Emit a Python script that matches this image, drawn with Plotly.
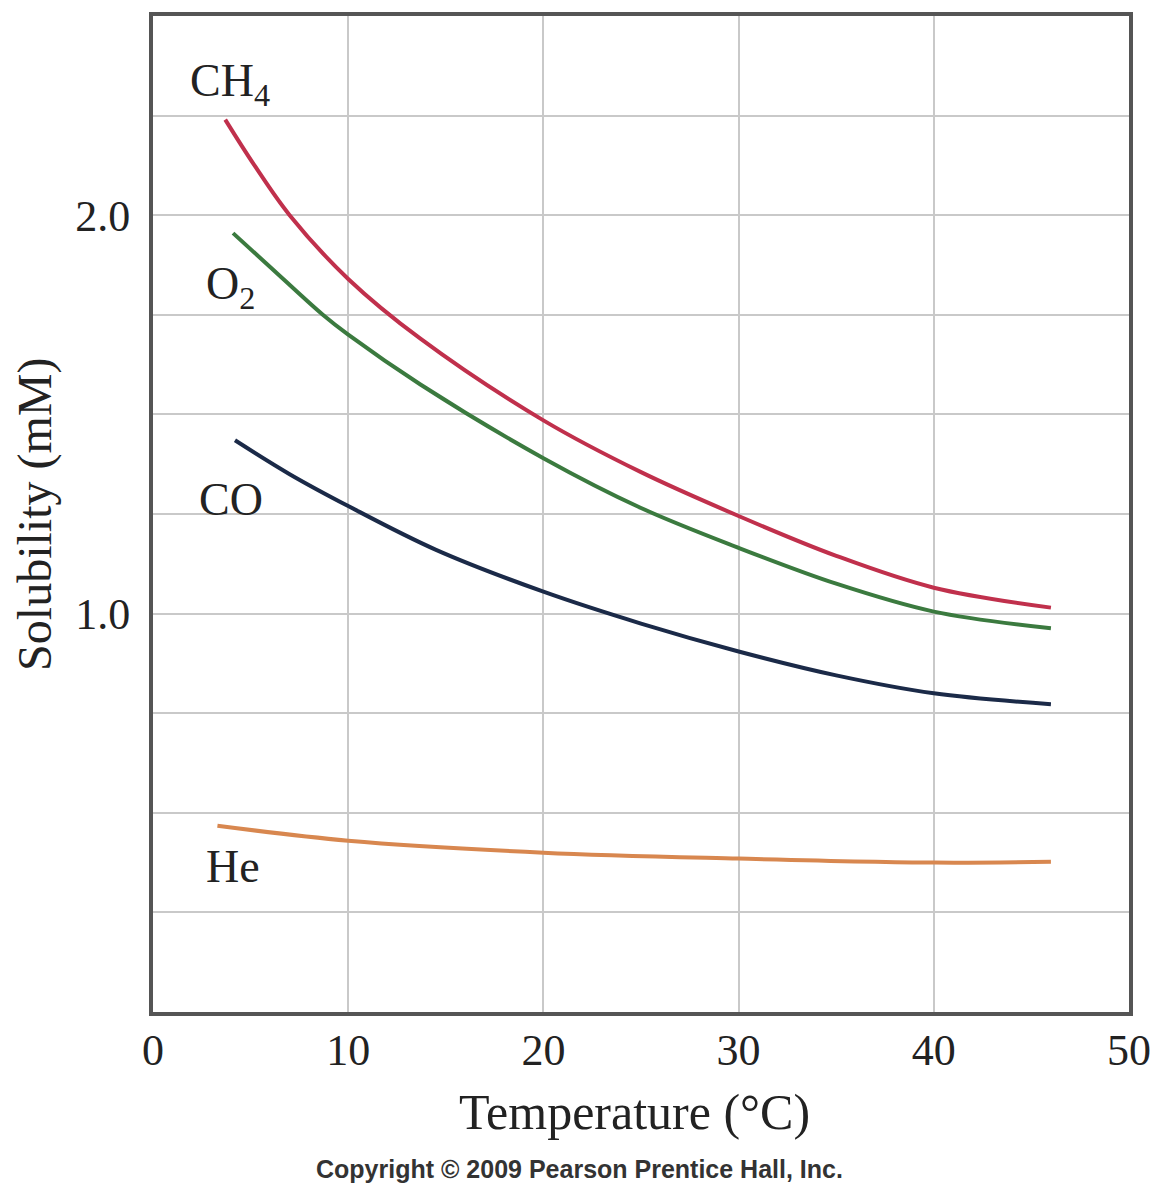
import plotly.graph_objects as go

# Data (temperature in °C, solubility in mM)
ch4_t = [3.7, 5.2, 7.0, 10.0, 13.7, 20.0, 25.0, 30.0, 35.0, 40.0, 46.0]
ch4_s = [2.24, 2.125, 2.00, 1.84, 1.69, 1.485, 1.355, 1.245, 1.145, 1.065, 1.015]

o2_t = [4.1, 6.0, 8.7, 10.0, 13.7, 20.0, 25.0, 30.0, 35.0, 40.0, 46.0]
o2_s = [1.955, 1.87, 1.75, 1.70, 1.575, 1.39, 1.265, 1.165, 1.075, 1.005, 0.963]

co_t = [4.2, 7.0, 10.0, 14.5, 20.0, 25.0, 30.0, 35.0, 40.0, 46.0]
co_s = [1.435, 1.35, 1.27, 1.16, 1.055, 0.975, 0.905, 0.845, 0.80, 0.7725]

he_t = [3.3, 10.0, 20.0, 30.0, 40.0, 46.0]
he_s = [0.4675, 0.43, 0.40, 0.385, 0.375, 0.377]

series_names = ["CH<sub>4</sub>", "O<sub>2</sub>", "CO", "He"]
series_colors = ["#c0304c", "#3b7a3f", "#1b2a48", "#d8874f"]
label_x = [3.95, 3.95, 4.0, 4.1]
label_y = [2.33, 1.82, 1.2875, 0.365]

x_ticks = [0, 10, 20, 30, 40, 50]
y_grid = [0.25, 0.5, 0.75, 1.0, 1.25, 1.5, 1.75, 2.0, 2.25, 2.5]
y_labels = ["", "", "", "1.0", "", "", "", "2.0", "", ""]

FONT = "Liberation Serif"
TXT = "#222222"

fig = go.Figure()
for t, s, c in [(ch4_t, ch4_s, series_colors[0]), (o2_t, o2_s, series_colors[1]),
                (co_t, co_s, series_colors[2]), (he_t, he_s, series_colors[3])]:
    fig.add_trace(go.Scatter(x=t, y=s, mode="lines",
                             line=dict(color=c, width=4, shape="spline", smoothing=1.0),
                             showlegend=False, hoverinfo="skip"))

for name, lx, ly in zip(series_names, label_x, label_y):
    fig.add_annotation(x=lx, y=ly, xref="x", yref="y", text=name, showarrow=False,
                       xanchor="center", yanchor="middle",
                       font=dict(family=FONT, size=46, color=TXT))

fig.add_annotation(x=0.493, y=-0.10, xref="paper", yref="paper", text="Temperature (°C)",
                   showarrow=False, xanchor="center", yanchor="middle",
                   font=dict(family=FONT, size=50, color=TXT))
fig.add_annotation(x=-0.121, y=0.5, xref="paper", yref="paper", text="Solubility (mM)",
                   showarrow=False, textangle=-90, xanchor="center", yanchor="middle",
                   font=dict(family=FONT, size=48, color=TXT))
fig.add_annotation(x=0.437, y=-0.158, xref="paper", yref="paper",
                   text="<b>Copyright © 2009 Pearson Prentice Hall, Inc.</b>",
                   showarrow=False, xanchor="center", yanchor="middle",
                   font=dict(family="Liberation Sans", size=25, color="#333333"))

fig.update_xaxes(range=[0, 50], tickvals=x_ticks, ticktext=[str(v) for v in x_ticks],
                 showgrid=True, gridcolor="#c9c9c9", gridwidth=2,
                 showline=True, mirror=True, linecolor="#555555", linewidth=4,
                 zeroline=False, ticks="", ticklabelstandoff=-4,
                 tickfont=dict(family=FONT, size=44, color=TXT))
fig.update_yaxes(range=[0, 2.5], tickvals=y_grid, ticktext=y_labels,
                 showgrid=True, gridcolor="#c9c9c9", gridwidth=2,
                 showline=True, mirror=True, linecolor="#555555", linewidth=4,
                 zeroline=False, ticks="", ticklabelstandoff=10,
                 tickfont=dict(family=FONT, size=44, color=TXT))

fig.update_layout(width=1147, height=1184, autosize=False,
                  margin=dict(l=145, r=25, t=4, b=180),
                  plot_bgcolor="white", paper_bgcolor="white")

fig.write_html("out.html")
